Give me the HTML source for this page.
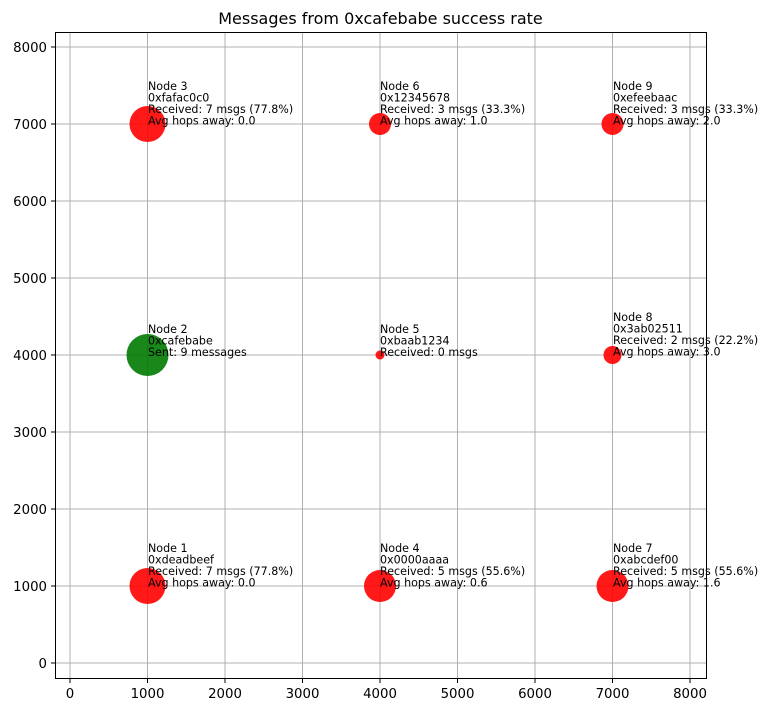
<!DOCTYPE html>
<html><head><style>body{margin:0;background:#fff}</style></head><body>
<svg width="768" height="712" xmlns="http://www.w3.org/2000/svg" font-family="DejaVu Sans, Liberation Sans, sans-serif">
<rect width="768" height="712" fill="#fff"/>
<text x="380.5" y="24" font-size="16" text-anchor="middle">Messages from 0xcafebabe success rate</text>
<g stroke="#b0b0b0" stroke-width="1">
<line x1="70" y1="32" x2="70" y2="678"/><line x1="147.5" y1="32" x2="147.5" y2="678"/><line x1="225" y1="32" x2="225" y2="678"/><line x1="302.5" y1="32" x2="302.5" y2="678"/><line x1="380" y1="32" x2="380" y2="678"/><line x1="457.5" y1="32" x2="457.5" y2="678"/><line x1="535" y1="32" x2="535" y2="678"/><line x1="612.5" y1="32" x2="612.5" y2="678"/><line x1="690" y1="32" x2="690" y2="678"/>
<line x1="55" y1="663" x2="706" y2="663"/><line x1="55" y1="586" x2="706" y2="586"/><line x1="55" y1="509" x2="706" y2="509"/><line x1="55" y1="432" x2="706" y2="432"/><line x1="55" y1="355" x2="706" y2="355"/><line x1="55" y1="278" x2="706" y2="278"/><line x1="55" y1="201" x2="706" y2="201"/><line x1="55" y1="124" x2="706" y2="124"/><line x1="55" y1="47" x2="706" y2="47"/>
</g>
<g fill="#ff0000" fill-opacity="0.9">
<circle cx="147.5" cy="124" r="18"/><circle cx="380" cy="124" r="11"/><circle cx="612.5" cy="124" r="11"/>
<circle cx="380" cy="355" r="4.5"/><circle cx="612.5" cy="355" r="9"/>
<circle cx="147.5" cy="586" r="18"/><circle cx="380" cy="586" r="16"/><circle cx="612.5" cy="586" r="16"/>
</g>
<circle cx="147.5" cy="355" r="21" fill="#007a00" fill-opacity="0.9"/>
<g font-size="11.1" fill="#000">
<text x="148" y="90"><tspan x="148">Node 3</tspan><tspan x="148" dy="11.5">0xfafac0c0</tspan><tspan x="148" dy="11.5">Received: 7 msgs (77.8%)</tspan><tspan x="148" dy="11.5">Avg hops away: 0.0</tspan></text>
<text x="380" y="90"><tspan x="380">Node 6</tspan><tspan x="380" dy="11.5">0x12345678</tspan><tspan x="380" dy="11.5">Received: 3 msgs (33.3%)</tspan><tspan x="380" dy="11.5">Avg hops away: 1.0</tspan></text>
<text x="613" y="90"><tspan x="613">Node 9</tspan><tspan x="613" dy="11.5">0xefeebaac</tspan><tspan x="613" dy="11.5">Received: 3 msgs (33.3%)</tspan><tspan x="613" dy="11.5">Avg hops away: 2.0</tspan></text>
<text x="148" y="333"><tspan x="148">Node 2</tspan><tspan x="148" dy="11.5">0xcafebabe</tspan><tspan x="148" dy="11.5">Sent: 9 messages</tspan></text>
<text x="380" y="333"><tspan x="380">Node 5</tspan><tspan x="380" dy="11.5">0xbaab1234</tspan><tspan x="380" dy="11.5">Received: 0 msgs</tspan></text>
<text x="613" y="321"><tspan x="613">Node 8</tspan><tspan x="613" dy="11.5">0x3ab02511</tspan><tspan x="613" dy="11.5">Received: 2 msgs (22.2%)</tspan><tspan x="613" dy="11.5">Avg hops away: 3.0</tspan></text>
<text x="148" y="552"><tspan x="148">Node 1</tspan><tspan x="148" dy="11.5">0xdeadbeef</tspan><tspan x="148" dy="11.5">Received: 7 msgs (77.8%)</tspan><tspan x="148" dy="11.5">Avg hops away: 0.0</tspan></text>
<text x="380" y="552"><tspan x="380">Node 4</tspan><tspan x="380" dy="11.5">0x0000aaaa</tspan><tspan x="380" dy="11.5">Received: 5 msgs (55.6%)</tspan><tspan x="380" dy="11.5">Avg hops away: 0.6</tspan></text>
<text x="613" y="552"><tspan x="613">Node 7</tspan><tspan x="613" dy="11.5">0xabcdef00</tspan><tspan x="613" dy="11.5">Received: 5 msgs (55.6%)</tspan><tspan x="613" dy="11.5">Avg hops away: 1.6</tspan></text>
</g>
<rect x="55.5" y="32.5" width="651" height="646" fill="none" stroke="#000" stroke-width="1"/>
<g stroke="#000"><line x1="70" y1="679" x2="70" y2="683"/><line x1="147.5" y1="679" x2="147.5" y2="683"/><line x1="225" y1="679" x2="225" y2="683"/><line x1="302.5" y1="679" x2="302.5" y2="683"/><line x1="380" y1="679" x2="380" y2="683"/><line x1="457.5" y1="679" x2="457.5" y2="683"/><line x1="535" y1="679" x2="535" y2="683"/><line x1="612.5" y1="679" x2="612.5" y2="683"/><line x1="690" y1="679" x2="690" y2="683"/>
<line x1="51" y1="663" x2="55" y2="663"/><line x1="51" y1="586" x2="55" y2="586"/><line x1="51" y1="509" x2="55" y2="509"/><line x1="51" y1="432" x2="55" y2="432"/><line x1="51" y1="355" x2="55" y2="355"/><line x1="51" y1="278" x2="55" y2="278"/><line x1="51" y1="201" x2="55" y2="201"/><line x1="51" y1="124" x2="55" y2="124"/><line x1="51" y1="47" x2="55" y2="47"/></g>
<g font-size="13.3" text-anchor="middle"><text x="70" y="698">0</text><text x="147.5" y="698">1000</text><text x="225" y="698">2000</text><text x="302.5" y="698">3000</text><text x="380" y="698">4000</text><text x="457.5" y="698">5000</text><text x="535" y="698">6000</text><text x="612.5" y="698">7000</text><text x="690" y="698">8000</text></g>
<g font-size="13.3" text-anchor="end"><text x="47" y="668">0</text><text x="47" y="591">1000</text><text x="47" y="514">2000</text><text x="47" y="437">3000</text><text x="47" y="360">4000</text><text x="47" y="283">5000</text><text x="47" y="206">6000</text><text x="47" y="129">7000</text><text x="47" y="52">8000</text></g>
</svg>
</body></html>
